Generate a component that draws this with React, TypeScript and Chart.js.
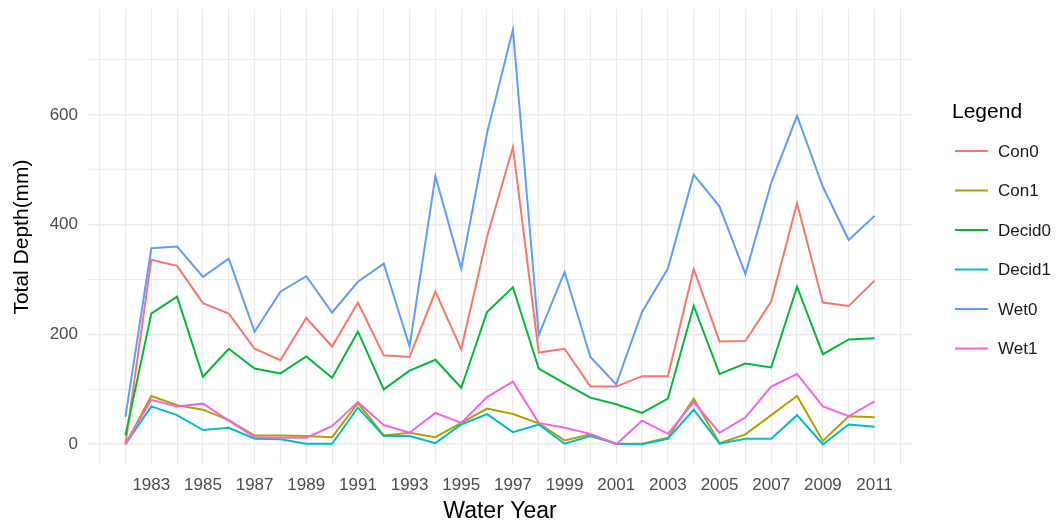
import React, { useEffect, useRef } from "react";
import { Chart, registerables } from "chart.js";

Chart.register(...registerables);

// Water years on the x axis
const years: number[] = [
  1982, 1983, 1984, 1985, 1986, 1987, 1988, 1989, 1990, 1991,
  1992, 1993, 1994, 1995, 1996, 1997, 1998, 1999, 2000, 2001,
  2002, 2003, 2004, 2005, 2006, 2007, 2008, 2009, 2010, 2011,
];

// Total depth (mm) per scenario
const con0: number[] = [0, 336, 325, 257, 238, 174, 153, 230, 178, 258, 162, 159, 278, 173, 378, 541, 167, 174, 105, 105, 124, 124, 319, 187, 188, 260, 439, 258, 252, 298];
const con1: number[] = [0, 88, 71, 63, 44, 16, 16, 15, 13, 75, 16, 21, 13, 39, 65, 55, 38, 7, 18, 1, 1, 12, 83, 2, 18, 53, 88, 6, 51, 49];
const decid0: number[] = [16, 238, 269, 123, 174, 138, 129, 160, 121, 205, 100, 134, 154, 103, 241, 286, 138, 111, 85, 73, 57, 83, 252, 128, 147, 140, 287, 164, 191, 193];
const decid1: number[] = [0, 69, 53, 26, 30, 10, 9, 1, 1, 67, 15, 15, 2, 36, 55, 22, 36, 1, 15, 1, 0, 10, 63, 1, 10, 10, 53, 0, 36, 32];
const wet0: number[] = [50, 357, 360, 305, 338, 205, 278, 306, 240, 296, 329, 178, 488, 320, 567, 755, 199, 314, 159, 109, 241, 320, 491, 433, 310, 476, 598, 469, 372, 416];
const wet1: number[] = [0, 81, 69, 74, 43, 13, 12, 12, 33, 77, 35, 21, 57, 39, 86, 114, 39, 30, 19, 0, 43, 19, 77, 21, 49, 105, 128, 69, 51, 78];

const seriesNames: string[] = ["Con0", "Con1", "Decid0", "Decid1", "Wet0", "Wet1"];
const seriesValues: number[][] = [con0, con1, decid0, decid1, wet0, wet1];
const seriesColors: string[] = ["#F8766D", "#B79F00", "#00BA38", "#00BFC4", "#619CFF", "#F564E3"];

// Axis ticks
const xGridYears: number[] = Array.from({ length: 32 }, (_, i) => 1981 + i);
const xLabelYears: number[] = [1983, 1985, 1987, 1989, 1991, 1993, 1995, 1997, 1999, 2001, 2003, 2005, 2007, 2009, 2011];
const yGridValues: number[] = [0, 100, 200, 300, 400, 500, 600, 700];
const yLabelValues: number[] = [0, 200, 400, 600];

const FONT = "'Liberation Sans', Arial, Helvetica, sans-serif";

const titlesAndLegend = {
  id: "titlesAndLegend",
  afterDraw(chart: any) {
    const ctx = chart.ctx as CanvasRenderingContext2D;
    const area = chart.chartArea;
    ctx.save();

    // x axis title
    ctx.fillStyle = "#000000";
    ctx.font = `23px ${FONT}`;
    ctx.textAlign = "center";
    ctx.textBaseline = "middle";
    ctx.fillText("Water Year", (area.left + area.right) / 2, 512);

    // y axis title
    ctx.save();
    ctx.translate(22, (area.top + area.bottom) / 2);
    ctx.rotate(-Math.PI / 2);
    ctx.font = `21px ${FONT}`;
    ctx.fillText("Total Depth(mm)", 0, 0);
    ctx.restore();

    // legend
    ctx.textAlign = "left";
    ctx.font = `21px ${FONT}`;
    ctx.fillStyle = "#000000";
    ctx.fillText("Legend", 952, 112);
    ctx.font = `17px ${FONT}`;
    seriesNames.forEach((name, i) => {
      const y = 151 + i * 39.5;
      ctx.strokeStyle = seriesColors[i];
      ctx.lineWidth = 2;
      ctx.beginPath();
      ctx.moveTo(955, y);
      ctx.lineTo(988, y);
      ctx.stroke();
      ctx.fillStyle = "#1a1a1a";
      ctx.fillText(name, 998, y + 1);
    });
    ctx.restore();
  },
};

export default function App() {
  const canvasRef = useRef<HTMLCanvasElement | null>(null);

  useEffect(() => {
    if (!canvasRef.current) return;
    const chart = new Chart(canvasRef.current, {
      type: "line",
      data: {
        datasets: seriesNames.map((name, i) => ({
          label: name,
          data: years.map((yr, j) => ({ x: yr, y: seriesValues[i][j] })),
          borderColor: seriesColors[i],
          backgroundColor: seriesColors[i],
          borderWidth: 2,
          pointRadius: 0,
          tension: 0,
          fill: false,
          order: seriesNames.length - i,
        })),
      },
      options: {
        animation: false,
        responsive: false,
        devicePixelRatio: 1,
        layout: { padding: { top: 9, right: 148, left: 0, bottom: 0 } },
        plugins: {
          legend: { display: false },
          tooltip: { enabled: false },
        },
        scales: {
          x: {
            type: "linear",
            min: 1980.55,
            max: 2012.45,
            afterBuildTicks: (scale: any) => {
              scale.ticks = xGridYears.map((v) => ({ value: v }));
            },
            afterFit: (scale: any) => {
              scale.height = 62;
              scale.paddingLeft = 0;
              scale.paddingRight = 0;
            },
            border: { display: false },
            grid: { color: "#ebebeb", lineWidth: 1.2, drawTicks: false },
            ticks: {
              autoSkip: false,
              maxRotation: 0,
              padding: 10,
              color: "#4d4d4d",
              font: { family: FONT, size: 17 },
              callback: (v: any) => (xLabelYears.includes(Number(v)) ? String(v) : ""),
            },
          },
          y: {
            type: "linear",
            min: -37.75,
            max: 792.75,
            afterBuildTicks: (scale: any) => {
              scale.ticks = yGridValues.map((v) => ({ value: v }));
            },
            afterFit: (scale: any) => {
              scale.width = 88;
              scale.paddingTop = 0;
              scale.paddingBottom = 0;
            },
            border: { display: false },
            grid: {
              color: "#ebebeb",
              drawTicks: false,
              lineWidth: (c: any) => (yLabelValues.includes(c.tick?.value) ? 1.6 : 1),
            },
            ticks: {
              padding: 10,
              color: "#4d4d4d",
              font: { family: FONT, size: 17 },
              callback: (v: any) => (yLabelValues.includes(Number(v)) ? String(v) : ""),
            },
          },
        },
      },
      plugins: [titlesAndLegend],
    });
    return () => chart.destroy();
  }, []);

  return (
    <div style={{ position: "fixed", left: 0, top: 0, width: 1060, height: 527, background: "#ffffff" }}>
      <canvas ref={canvasRef} width={1060} height={527} style={{ width: 1060, height: 527 }} />
    </div>
  );
}
